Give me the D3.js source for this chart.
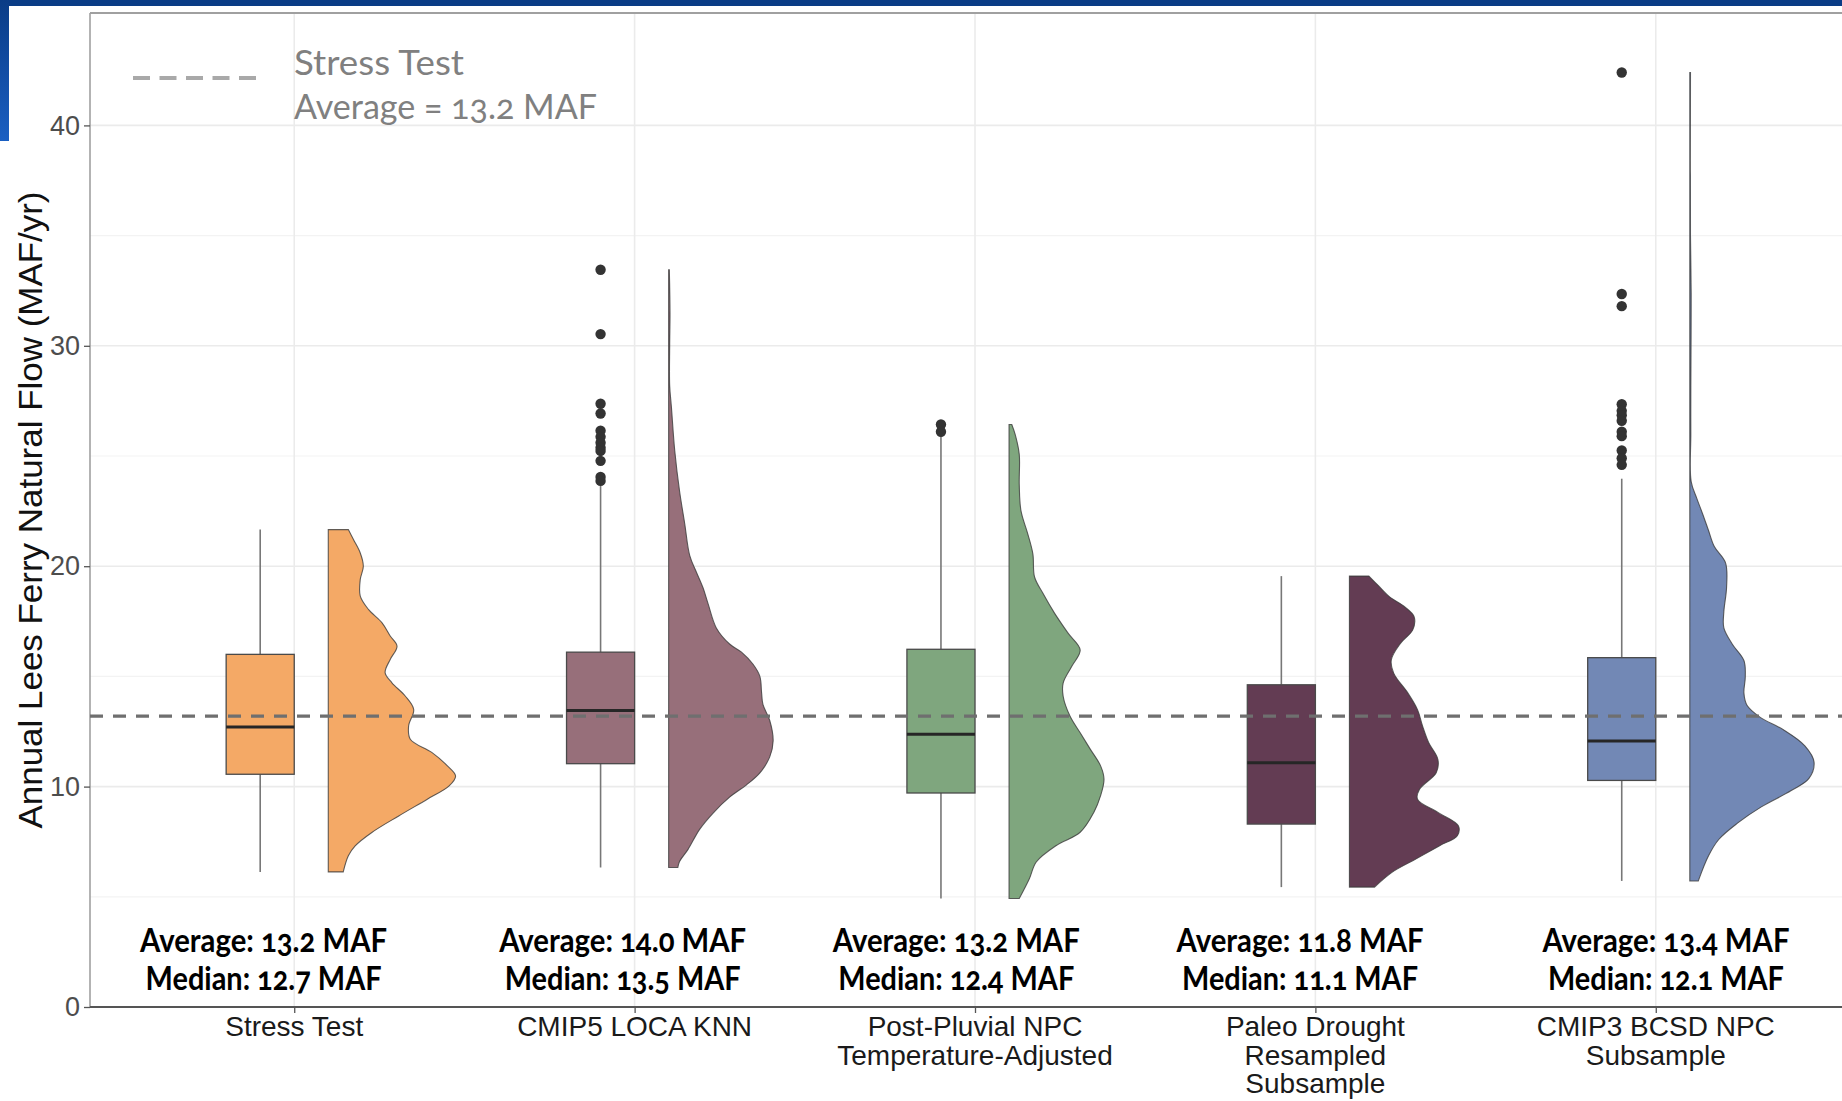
<!DOCTYPE html>
<html>
<head>
<meta charset="utf-8">
<script src="https://cdn.jsdelivr.net/npm/d3@7"></script>
<style>
  html, body { margin: 0; padding: 0; background: #fff; }
  svg { display: block; }
</style>
</head>
<body>
<div id="chart"></div>
<script>
// Categories and labels
const categories = ["Stress Test", "CMIP5 LOCA KNN", "Post-Pluvial NPC", "Paleo Drought", "CMIP3 BCSD NPC"];
const categoryLabels = [
    ["Stress Test"],
    ["CMIP5 LOCA KNN"],
    ["Post-Pluvial NPC", "Temperature-Adjusted"],
    ["Paleo Drought", "Resampled", "Subsample"],
    ["CMIP3 BCSD NPC", "Subsample"]
];
const colors = ["#f4a966", "#976f7a", "#7fa67e", "#633c53", "#7288b5"];

// Box plot stats (MAF/yr)
const whiskerLow = [6.13, 6.33, 4.92, 5.44, 5.72];
const q1 = [10.56, 11.04, 9.71, 8.30, 10.28];
const median = [12.70, 13.45, 12.37, 11.08, 12.07];
const q3 = [16.00, 16.10, 16.23, 14.62, 15.85];
const whiskerHigh = [21.66, 23.68, 25.95, 19.55, 23.97];

const outliers = [
    [],
    [33.45, 30.53, 27.37, 26.93, 26.15, 25.87, 25.6, 25.38, 25.23, 24.78, 24.05, 23.87],
    [26.43, 26.1],
    [],
    [42.4, 32.35, 31.8, 27.35, 27.05, 26.85, 26.6, 26.1, 25.9, 25.25, 24.9, 24.6]
];

// Half-violin density profiles: [value, relative width]
const densities = [
    [[6.13,4.4],[6.86,5.9],[7.31,7.9],[7.92,12.8],[8.67,20.7],[9.43,29.1],[10.03,35.5],[10.48,37.4],[10.94,35],[11.54,30.5],[12.15,24.1],[12.75,23.6],[13.5,25.1],[14.11,22.6],[14.71,18.7],[15.17,16.7],[15.77,18.2],[16.37,20.2],[16.83,18.2],[17.43,15.8],[18.04,11.8],[18.64,9.4],[19.4,9.4],[20.0,10.3],[20.6,9.4],[21.21,7.4],[21.66,5.9]],
    [[6.33,2.7],[6.6,3.2],[7.15,5.7],[8.06,9.1],[8.79,13.0],[9.52,17.9],[10.07,22.8],[10.62,26.8],[11.35,29.7],[12.08,30.7],[13.0,29.7],[13.73,27.7],[14.27,27.3],[15.0,26.8],[15.55,24.8],[16.1,21.4],[16.47,17.9],[17.2,14.0],[18.29,11.6],[19.02,10.1],[19.75,8.1],[20.48,6.2],[21.95,4.7],[23.41,3.2],[25.23,1.8],[27.24,0.8],[28.2,0.3],[30.0,0.3],[31.5,0.4],[33.45,0.2]],
    [[4.92,3.0],[5.83,6.0],[6.58,8.0],[7.33,13.9],[7.93,20.9],[8.83,24.9],[9.59,26.9],[10.34,27.9],[10.94,26.9],[11.69,23.9],[12.44,20.9],[13.2,17.9],[14.1,15.9],[14.7,15.9],[15.45,18.4],[16.2,20.9],[16.95,17.4],[17.86,13.4],[18.76,10.0],[19.51,7.5],[20.56,7.0],[21.47,5.5],[22.52,3.5],[23.72,3.0],[25.08,3.0],[25.98,1.8],[26.43,0.8]],
    [[5.44,7.4],[6.11,12.5],[6.72,19.6],[7.32,26.5],[7.77,31.7],[8.22,32.0],[8.83,26.0],[9.43,20.0],[9.88,20.6],[10.63,25.5],[11.23,26.0],[11.99,23.3],[12.74,21.5],[13.49,20.0],[14.24,17.2],[15.15,13.0],[15.75,12.3],[16.5,15.0],[17.11,18.6],[17.71,19.0],[18.16,16.2],[18.61,11.8],[19.07,8.8],[19.55,5.7]],
    [[5.72,2.5],[6.86,5.5],[7.6,8.5],[8.34,14.0],[9.08,21.0],[9.82,29.8],[10.37,35.0],[11.11,36.5],[11.85,33.8],[12.58,27.5],[13.14,20.7],[13.69,16.8],[14.24,15.9],[14.98,16.3],[15.72,15.9],[16.46,12.5],[17.2,10.0],[17.93,10.0],[19.04,10.8],[20.15,10.5],[20.89,7.2],[21.62,5.5],[22.36,3.8],[23.1,2.0],[23.84,0.4],[26.0,0.3],[28.1,0.3],[32.4,0.4],[35.0,0.2],[42.4,0.2]]
];

// Annotation values
const averages = ["13.2", "14.0", "13.2", "11.8", "13.4"];
const medianLabels = ["12.7", "13.5", "12.4", "11.1", "12.1"];
const stressTestAverage = 13.2;
const yTicks = [0, 10, 20, 30, 40];
const yMinor = [5, 15, 25, 35];

const W = 1842, H = 1101;
const svg = d3.select('#chart').append('svg')
    .attr('width', W)
    .attr('height', H);

// Header decoration
const defs = svg.append('defs');
const grad = defs.append('linearGradient').attr('id', 'strip').attr('x1', 0).attr('y1', 0).attr('x2', 0).attr('y2', 1);
grad.append('stop').attr('offset', '0%').attr('stop-color', '#0a3c86');
grad.append('stop').attr('offset', '100%').attr('stop-color', '#1a5fc2');

const x = d3.scaleLinear().domain([0.4, 5.6]).range([90, 1860]);
const y = d3.scaleLinear().domain([0, 45.1]).range([1007, 13]);
const unit = x(1) - x(0);
const w = d3.scaleLinear().domain([0, 100]).range([0, unit]);

const plotLeft = x(0.4), plotTop = y(45.1), plotBottom = y(0);

// Grid lines
const grid = svg.append('g');
grid.selectAll('.minor').data(yMinor).join('line')
    .attr('x1', plotLeft).attr('x2', W)
    .attr('y1', d => y(d)).attr('y2', d => y(d))
    .attr('stroke', '#f3f3f3').attr('stroke-width', 1.2);
grid.selectAll('.major').data(yTicks.slice(1)).join('line')
    .attr('x1', plotLeft).attr('x2', W)
    .attr('y1', d => y(d)).attr('y2', d => y(d))
    .attr('stroke', '#ebebeb').attr('stroke-width', 1.6);
grid.selectAll('.vert').data(categories).join('line')
    .attr('x1', (d, i) => x(i + 1)).attr('x2', (d, i) => x(i + 1))
    .attr('y1', plotTop).attr('y2', plotBottom)
    .attr('stroke', '#ebebeb').attr('stroke-width', 1.6);

// Violins
const area = d3.area()
    .curve(d3.curveCatmullRom.alpha(0.5))
    .y(d => y(d[0]));

const marks = svg.append('g');
densities.forEach((dens, i) => {
    const x0 = x(i + 1 + 0.1);
    area.x0(x0).x1(d => x0 + w(d[1]));
    marks.append('path')
        .attr('d', area(dens))
        .attr('fill', colors[i])
        .attr('stroke', '#3b3b3b')
        .attr('stroke-opacity', 0.8)
        .attr('stroke-width', 1.1);
});

// Boxes
categories.forEach((c, i) => {
    const cx = x(i + 1 - 0.1);
    const g = marks.append('g');
    g.append('line')
        .attr('x1', cx).attr('x2', cx)
        .attr('y1', y(whiskerHigh[i])).attr('y2', y(q3[i]))
        .attr('stroke', '#777').attr('stroke-width', 1.6);
    g.append('line')
        .attr('x1', cx).attr('x2', cx)
        .attr('y1', y(q1[i])).attr('y2', y(whiskerLow[i]))
        .attr('stroke', '#777').attr('stroke-width', 1.6);
    g.append('rect')
        .attr('x', x(i + 1 - 0.2))
        .attr('width', x(i + 1) - x(i + 1 - 0.2))
        .attr('y', y(q3[i]))
        .attr('height', y(q1[i]) - y(q3[i]))
        .attr('fill', colors[i])
        .attr('stroke', '#4a4a4a')
        .attr('stroke-width', 1.3);
    g.append('line')
        .attr('x1', x(i + 1 - 0.2)).attr('x2', x(i + 1))
        .attr('y1', y(median[i])).attr('y2', y(median[i]))
        .attr('stroke', '#262626').attr('stroke-width', 3);
    g.selectAll('circle').data(outliers[i]).join('circle')
        .attr('cx', cx)
        .attr('cy', d => y(d))
        .attr('r', 5.2)
        .attr('fill', '#333');
});

// Axes
const yAxis = svg.append('g')
    .attr('transform', `translate(${plotLeft},0)`)
    .call(d3.axisLeft(y).tickValues(yTicks).tickSize(6).tickPadding(4));
yAxis.select('.domain').attr('stroke', '#9a9a9a').attr('stroke-width', 1.5)
    .attr('d', `M0,${plotTop}V${plotBottom}`);
yAxis.selectAll('.tick line').attr('stroke', '#555').attr('stroke-width', 1.3);
yAxis.selectAll('.tick text')
    .attr('fill', '#4d4d4d')
    .style('font-family', '"Liberation Sans", Arial, sans-serif')
    .style('font-size', '27px');

const xAxis = svg.append('g')
    .attr('transform', `translate(0,${plotBottom})`)
    .call(d3.axisBottom(x).tickValues([1, 2, 3, 4, 5]).tickSize(6).tickFormat(''));
xAxis.select('.domain').attr('stroke', '#555').attr('stroke-width', 2)
    .attr('d', `M${plotLeft},0H${W}`);
xAxis.selectAll('.tick line').attr('stroke', '#555').attr('stroke-width', 1.3);

// Top border of the panel
svg.append('line')
    .attr('x1', plotLeft).attr('x2', W)
    .attr('y1', plotTop).attr('y2', plotTop)
    .attr('stroke', '#a0a0a0').attr('stroke-width', 2);

// Category labels
categoryLabels.forEach((lines, i) => {
    const t = svg.append('text')
        .attr('x', x(i + 1))
        .attr('y', 1036)
        .attr('text-anchor', 'middle')
        .attr('fill', '#1a1a1a')
        .style('font-family', '"Liberation Sans", Arial, sans-serif')
        .style('font-size', '28px');
    lines.forEach((l, k) => {
        t.append('tspan').attr('x', x(i + 1)).attr('dy', k === 0 ? 0 : 28.5).text(l);
    });
});

// Y title
svg.append('text')
    .attr('transform', `translate(42,510) rotate(-90)`)
    .attr('text-anchor', 'middle')
    .attr('fill', '#111')
    .attr('textLength', 637)
    .attr('lengthAdjust', 'spacingAndGlyphs')
    .style('font-family', '"Liberation Sans", Arial, sans-serif')
    .style('font-size', '33px')
    .text('Annual Lees Ferry Natural Flow (MAF/yr)');

// Average / median notes
const noteShift = [-0.09, -0.035, -0.055, -0.045, 0.03];
categories.forEach((c, i) => {
    const nx = x(i + 1 + noteShift[i]);
    svg.append('text')
        .attr('x', nx).attr('y', 952)
        .attr('text-anchor', 'middle')
        .attr('textLength', 247).attr('lengthAdjust', 'spacingAndGlyphs')
        .style('font-family', 'Lato, "Open Sans", sans-serif')
        .style('font-weight', 700).style('font-size', '32px')
        .style('font-variant-numeric', 'oldstyle-nums')
        .attr('fill', '#000')
        .text(`Average: ${averages[i]} MAF`);
    svg.append('text')
        .attr('x', nx).attr('y', 990)
        .attr('text-anchor', 'middle')
        .attr('textLength', 236).attr('lengthAdjust', 'spacingAndGlyphs')
        .style('font-family', 'Lato, "Open Sans", sans-serif')
        .style('font-weight', 700).style('font-size', '32px')
        .style('font-variant-numeric', 'oldstyle-nums')
        .attr('fill', '#000')
        .text(`Median: ${medianLabels[i]} MAF`);
});

// Stress test average reference line
svg.append('line')
    .attr('x1', plotLeft).attr('x2', W)
    .attr('y1', y(stressTestAverage)).attr('y2', y(stressTestAverage))
    .attr('stroke', '#6f6f6f')
    .attr('stroke-width', 3.2)
    .attr('stroke-dasharray', '13,10');

// Legend
svg.append('line')
    .attr('x1', 133).attr('x2', 256)
    .attr('y1', 78).attr('y2', 78)
    .attr('stroke', '#a9a9a9').attr('stroke-width', 4)
    .attr('stroke-dasharray', '17,9.5');
svg.append('text')
    .attr('x', 294).attr('y', 75)
    .attr('textLength', 170).attr('lengthAdjust', 'spacingAndGlyphs')
    .attr('fill', '#808080')
    .style('font-family', 'Lato, "Open Sans", sans-serif')
    .style('font-size', '35px')
    .text('Stress Test');
svg.append('text')
    .attr('x', 294).attr('y', 119)
    .attr('textLength', 303).attr('lengthAdjust', 'spacingAndGlyphs')
    .attr('fill', '#808080')
    .style('font-family', 'Lato, "Open Sans", sans-serif')
    .style('font-size', '35px')
    .style('font-variant-numeric', 'oldstyle-nums')
    .text('Average = 13.2 MAF');

// Header bars
svg.append('rect').attr('x', 0).attr('y', 0).attr('width', W).attr('height', 6).attr('fill', '#0a3c86');
svg.append('rect').attr('x', 0).attr('y', 0).attr('width', 9).attr('height', 141).attr('fill', 'url(#strip)');
</script>
</body>
</html>
